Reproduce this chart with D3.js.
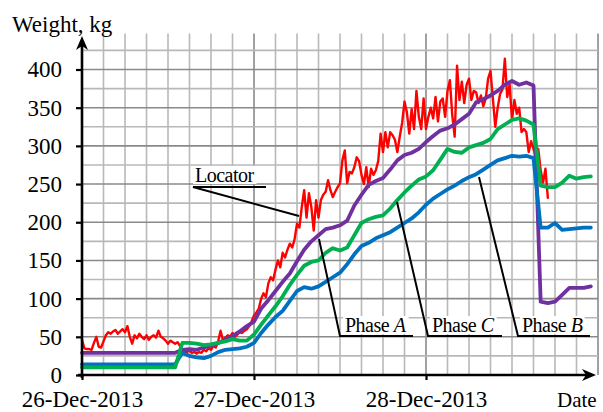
<!DOCTYPE html>
<html>
<head>
<meta charset="utf-8">
<script src="https://cdn.jsdelivr.net/npm/d3@7/dist/d3.min.js"></script>
<style>
  html, body { margin: 0; padding: 0; background: #fff; }
  svg { display: block; }
</style>
</head>
<body>
<svg id="chart" width="603" height="412"></svg>
<script>
// ---- data ----
const startDate = new Date(2013, 11, 26, 0, 0);
const dayTicks = [new Date(2013, 11, 26), new Date(2013, 11, 27), new Date(2013, 11, 28)];
const yTicks = [0, 50, 100, 150, 200, 250, 300, 350, 400];

// hourly weight estimates (kg), hour 0 = 26-Dec-2013 00:00
const phaseA = [29, 29, 29, 29, 29, 29, 29, 29, 29, 29, 29, 29, 29, 29,
  33, 34, 33, 36, 38, 42, 46, 51, 57, 64, 70, 87, 98, 110, 122, 133, 149, 164, 175, 183,
  191, 193, 196, 202, 222, 236, 249, 254, 258, 269, 281, 288, 291, 296, 305, 313, 320,
  323, 328, 335, 342, 357, 361, 366, 372, 380, 385, 380, 383, 379, 96, 94, 96, 105, 114,
  114, 114, 116];
const phaseB = [14, 14, 14, 14, 14, 14, 14, 14, 14, 14, 14, 14, 14, 14,
  29, 25, 23, 22, 25, 30, 33, 34, 35, 37, 42, 55, 66, 76, 84, 97, 110, 115, 113, 116,
  122, 128, 134, 145, 158, 169, 173, 179, 183, 187, 193, 199, 205, 213, 223, 231, 237,
  243, 248, 254, 259, 263, 269, 275, 281, 284, 287, 286, 287, 284, 193, 193, 199, 190, 191,
  192, 193, 193];
const phaseC = [10, 10, 10, 10, 10, 10, 10, 10, 10, 10, 10, 10, 10, 10,
  42, 42, 41, 39, 40, 42, 44, 47, 45, 45, 53, 66, 78, 90, 103, 118, 131, 143, 148, 150,
  160, 166, 163, 167, 183, 199, 204, 207, 209, 218, 229, 239, 248, 256, 260, 268, 282,
  296, 292, 291, 298, 301, 304, 309, 322, 328, 334, 336, 333, 328, 248, 246, 246, 252, 261,
  257, 259, 260];

// locator readings (kg), one every 20 minutes from 26-Dec-2013 00:00
const locatorStepMin = 20;
const locator = [46, 35, 34, 34, 33, 42, 50, 37, 36, 44, 52, 56, 54, 57, 59, 54, 57, 60, 56, 64,
  50, 41, 52, 48, 54, 50, 47, 52, 46, 50, 52, 49, 58, 50, 48, 45, 41, 45, 43, 41, 43, 38,
  34, 31, 30, 32, 29, 30, 28, 30, 29, 33, 31, 35, 33, 38, 36, 44, 58, 46, 49, 52, 50, 55,
  50, 53, 56, 55, 58, 60, 64, 70, 78, 82, 87, 100, 107, 102, 120, 128, 124, 138, 150, 141,
  160, 154, 164, 172, 167, 178, 198, 193, 220, 242, 206, 238, 220, 189, 229, 206, 229, 236,
  240, 255, 242, 233, 240, 246, 251, 281, 294, 251, 266, 264, 272, 285,
  280, 262, 250, 272, 246, 270, 262, 268, 280, 316, 292, 318, 298, 318, 314, 308, 292, 312,
  330, 358, 344, 316, 348, 322, 372, 338, 322, 362, 322, 338, 350, 336, 364, 332, 358, 362,
  338, 372, 386, 340, 312, 405, 360, 384, 356, 380, 388, 360, 372, 370, 356, 366, 352, 362,
  388, 398, 362, 325, 350, 368, 374, 414, 364, 380, 334, 360, 342, 350, 318, 322, 318, 292,
  306, 296, 286, 296, 268, 252, 270, 232];

// ---- layout ----
const FONT = "Liberation Serif";
const svg = d3.select("#chart");
const x = d3.scaleTime()
  .domain([startDate, d3.timeHour.offset(startDate, 72)])
  .range([82, 598]);
const y = d3.scaleLinear().domain([0, 400]).range([375, 69.5]);

const hourly = arr => arr.map((v, h) => ({ t: d3.timeHour.offset(startDate, h), v }));
const series = [
  { name: "Locator", color: "#ff0000", width: 2.4,
    pts: locator.map((v, i) => ({ t: d3.timeMinute.offset(startDate, i * locatorStepMin), v })) },
  { name: "Phase A", color: "#7030a0", width: 3.8, pts: hourly(phaseA) },
  { name: "Phase B", color: "#0070c0", width: 3.8, pts: hourly(phaseB) },
  { name: "Phase C", color: "#00b050", width: 3.8, pts: hourly(phaseC) }
];

// ---- grid ----
const grid = svg.append("g");
const gridTop = y(447);
for (let h = 3; h <= 72; h += 3) {
  const gx = x(d3.timeHour.offset(startDate, h));
  grid.append("line")
    .attr("x1", gx).attr("x2", gx).attr("y1", y(0)).attr("y2", gridTop)
    .attr("stroke", h % 24 === 0 ? "#8a8a8a" : "#b8b8b8")
    .attr("stroke-width", 1.6);
}
for (let v = 25; v <= 425; v += 25) {
  grid.append("line")
    .attr("x1", x.range()[0]).attr("x2", x.range()[1]).attr("y1", y(v)).attr("y2", y(v))
    .attr("stroke", v % 50 === 0 ? "#8a8a8a" : "#b8b8b8")
    .attr("stroke-width", 1.6);
}

// ---- series ----
const line = d3.line().x(d => x(d.t)).y(d => y(d.v)).curve(d3.curveLinear);
svg.append("g").selectAll("path").data(series).join("path")
  .attr("d", d => line(d.pts))
  .attr("fill", "none")
  .attr("stroke", d => d.color)
  .attr("stroke-width", d => d.width)
  .attr("stroke-linejoin", "round")
  .attr("stroke-linecap", "round");

// ---- axes ----
const yAxis = svg.append("g").attr("transform", `translate(${x.range()[0]},0)`)
  .call(d3.axisLeft(y).tickValues(yTicks).tickSize(6).tickPadding(14).tickFormat(d3.format("d")));
yAxis.select(".domain").remove();
yAxis.attr("font-family", null).attr("font-size", null);
yAxis.selectAll(".tick line").attr("stroke", "#000").attr("stroke-width", 2.2);
yAxis.selectAll(".tick text").style("font-family", FONT).style("font-size", "23px").attr("fill", "#000");

const xAxis = svg.append("g").attr("transform", `translate(0,${y(0)})`)
  .call(d3.axisBottom(x).tickValues(dayTicks).tickSize(5).tickPadding(11)
    .tickFormat(d3.timeFormat("%d-%b-%Y")));
xAxis.select(".domain").remove();
xAxis.attr("font-family", null).attr("font-size", null);
xAxis.selectAll(".tick line").attr("stroke", "#000").attr("stroke-width", 2.2);
xAxis.selectAll(".tick text").style("font-family", FONT).style("font-size", "23px").attr("fill", "#000");

const ox = x.range()[0], oy = y(0);
const axes = svg.append("g").attr("stroke", "#000").attr("stroke-width", 2.6);
axes.append("line").attr("x1", ox).attr("x2", ox).attr("y1", oy + 3).attr("y2", 46);
axes.append("line").attr("x1", ox - 4).attr("x2", 586).attr("y1", oy).attr("y2", oy);
// arrow heads
svg.append("path").attr("fill", "#000")
  .attr("d", `M${ox},36 L${ox - 6},50 L${ox},46 L${ox + 6},50 Z`);
svg.append("path").attr("fill", "#000")
  .attr("d", `M596,${oy} L582,${oy - 6} L586,${oy} L582,${oy + 6} Z`);

svg.append("text").attr("x", 12).attr("y", 32)
  .style("font-family", FONT).style("font-size", "23px").text("Weight, kg");
svg.append("text").attr("x", 557).attr("y", 407)
  .style("font-family", FONT).style("font-size", "21px").text("Date");

// ---- callouts ----
const notes = [
  { label: "Locator", italic: "", tx: 195, ty: 182, u1: 193, u2: 266, uy: 187, lx: 299, ly: 216 },
  { label: "Phase ", italic: "A", tx: 345, ty: 332, u1: 340, u2: 413, uy: 336, lx: 319, ly: 239 },
  { label: "Phase ", italic: "C", tx: 432, ty: 332, u1: 428, u2: 502, uy: 336, lx: 397, ly: 202 },
  { label: "Phase ", italic: "B", tx: 522, ty: 332, u1: 518, u2: 590, uy: 336, lx: 479, ly: 177 }
];
const ng = svg.append("g");
notes.forEach(n => {
  const g = ng.append("g");
  const bg = g.append("rect").attr("fill", "#fff");
  const t = g.append("text").attr("x", n.tx).attr("y", n.ty)
    .style("font-family", FONT).style("font-size", "20px")
    .attr("letter-spacing", -0.5);
  t.append("tspan").text(n.label);
  if (n.italic) t.append("tspan").style("font-style", "italic").text(n.italic);
  const bb = t.node().getBBox();
  bg.attr("x", bb.x - 2).attr("y", bb.y + 2).attr("width", bb.width + 4).attr("height", bb.height - 4);
  g.append("path")
    .attr("d", `M${n.u2},${n.uy} L${n.u1},${n.uy} L${n.lx},${n.ly}`)
    .attr("fill", "none").attr("stroke", "#000").attr("stroke-width", 2);
});
</script>
</body>
</html>
